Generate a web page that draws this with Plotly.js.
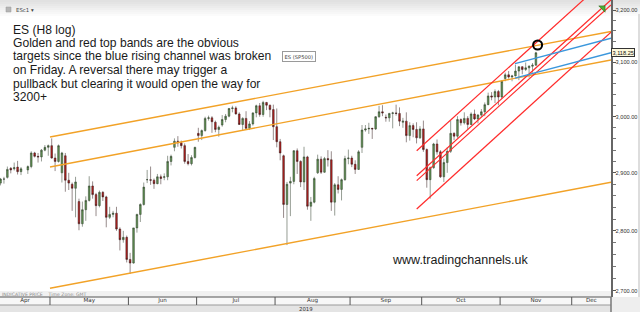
<!DOCTYPE html>
<html><head><meta charset="utf-8">
<script src="https://cdn.plot.ly/plotly-3.0.1.min.js"></script>
<style>html,body{margin:0;padding:0;background:#fff;overflow:hidden}#chart{width:640px;height:312px}</style>
</head><body><div id="chart"></div>
<script>
// ---------- data (daily bars) ----------
const dates = [
'2019-04-10','2019-04-11','2019-04-12','2019-04-15','2019-04-16','2019-04-17','2019-04-18','2019-04-22','2019-04-23','2019-04-24','2019-04-25','2019-04-26','2019-04-29','2019-04-30',
'2019-05-01','2019-05-02','2019-05-03','2019-05-06','2019-05-07','2019-05-08','2019-05-09','2019-05-10','2019-05-13','2019-05-14','2019-05-15','2019-05-16','2019-05-17','2019-05-20','2019-05-21','2019-05-22','2019-05-23','2019-05-24','2019-05-27','2019-05-28','2019-05-29','2019-05-30','2019-05-31',
'2019-06-03','2019-06-04','2019-06-05','2019-06-06','2019-06-07','2019-06-10','2019-06-11','2019-06-12','2019-06-13','2019-06-14','2019-06-17','2019-06-18','2019-06-19','2019-06-20','2019-06-21','2019-06-24','2019-06-25','2019-06-26','2019-06-27','2019-06-28',
'2019-07-01','2019-07-02','2019-07-03','2019-07-04','2019-07-05','2019-07-08','2019-07-09','2019-07-10','2019-07-11','2019-07-12','2019-07-15','2019-07-16','2019-07-17','2019-07-18','2019-07-19','2019-07-22','2019-07-23','2019-07-24','2019-07-25','2019-07-26','2019-07-29','2019-07-30','2019-07-31',
'2019-08-01','2019-08-02','2019-08-05','2019-08-06','2019-08-07','2019-08-08','2019-08-09','2019-08-12','2019-08-13','2019-08-14','2019-08-15','2019-08-16','2019-08-19','2019-08-20','2019-08-21','2019-08-22','2019-08-23','2019-08-26','2019-08-27','2019-08-28','2019-08-29','2019-08-30',
'2019-09-02','2019-09-03','2019-09-04','2019-09-05','2019-09-06','2019-09-09','2019-09-10','2019-09-11','2019-09-12','2019-09-13','2019-09-16','2019-09-17','2019-09-18','2019-09-19','2019-09-20','2019-09-23','2019-09-24','2019-09-25','2019-09-26','2019-09-27','2019-09-30',
'2019-10-01','2019-10-02','2019-10-03','2019-10-04','2019-10-07','2019-10-08','2019-10-09','2019-10-10','2019-10-11','2019-10-14','2019-10-15','2019-10-16','2019-10-17','2019-10-18','2019-10-21','2019-10-22','2019-10-23','2019-10-24','2019-10-25','2019-10-28','2019-10-29','2019-10-30','2019-10-31',
'2019-11-01','2019-11-04','2019-11-05','2019-11-06','2019-11-07','2019-11-08','2019-11-11','2019-11-12','2019-11-13','2019-11-14','2019-11-15'
];
const opens = [
2882,2889,2892,2908,2907,2910,2902,2905,2911,2935,2929,2928,2940,2945,
2948,2926,2920,2900,2930,2887,2880,2873,2850,2812,2836,2852,2877,2862,2843,2866,2858,2823,2828,2830,2803,2785,2789,
2752,2746,2805,2828,2845,2888,2888,2887,2881,2893,2892,2893,2920,2945,2956,2953,2948,2920,2916,2927,
2970,2966,2975,2997,2998,2990,2977,2985,2995,3001,3015,3016,3005,2986,2997,2979,2987,3007,3020,3004,3026,3021,3013,
2982,2955,2930,2845,2882,2885,2939,2920,2884,2928,2842,2849,2900,2924,2901,2925,2923,2849,2879,2871,2888,2925,
2926,2915,2906,2945,2976,2978,2979,2978,3000,3009,2999,2998,3006,3007,3006,2990,2992,2966,2984,2977,2962,
2978,2941,2888,2909,2951,2937,2893,2918,2938,2970,2965,2995,2989,2997,2986,3005,2996,3003,3009,3022,3038,3036,3046,
3036,3070,3077,3073,3075,3084,3092,3087,3090,3093,3095
];
const highs = [
2891,2893,2911,2910,2918,2921,2910,2913,2938,2937,2935,2942,2949,2950,
2961,2934,2950,2937,2935,2900,2883,2893,2855,2850,2859,2894,2885,2865,2869,2868,2860,2841,2834,2841,2806,2800,2792,
2763,2805,2829,2847,2883,2905,2911,2890,2898,2897,2899,2930,2932,2961,2965,2957,2952,2933,2931,2946,
2980,2977,3000,3002,3001,2993,2984,3003,3005,3016,3020,3019,3008,2999,3010,2992,3008,3022,3025,3029,3027,3022,3022,
3015,2960,2932,2884,2893,2940,2943,2922,2946,2930,2858,2893,2932,2929,2928,2940,2938,2882,2894,2890,2930,2941,
2930,2922,2940,2985,2985,2989,2980,3001,3020,3021,3004,3007,3009,3022,3017,2998,3008,2990,2988,2990,2983,
2993,2943,2911,2953,2959,2940,2925,2945,2993,2972,3001,2997,3008,3001,3008,3013,3005,3014,3026,3044,3045,3050,3049,
3067,3081,3084,3077,3096,3093,3093,3100,3095,3099,3120
];
const lows = [
2878,2881,2890,2899,2904,2897,2896,2898,2908,2927,2918,2920,2938,2930,
2925,2903,2918,2883,2867,2870,2834,2823,2801,2807,2817,2850,2855,2825,2840,2851,2806,2820,2823,2800,2767,2780,2747,
2728,2745,2797,2815,2843,2882,2879,2872,2880,2880,2887,2887,2913,2938,2946,2943,2916,2913,2913,2925,
2955,2958,2973,2993,2971,2972,2964,2982,2990,2999,3008,3004,2985,2975,2978,2976,2984,2999,3000,3000,3012,2999,2958,
2945,2922,2822,2776,2825,2880,2898,2875,2870,2836,2817,2847,2898,2898,2900,2911,2834,2826,2864,2852,2886,2915,
2910,2898,2905,2935,2973,2969,2960,2976,2998,3001,2991,2991,2979,3002,2983,2980,2954,2957,2963,2952,2960,
2937,2874,2855,2907,2932,2891,2884,2900,2935,2958,2962,2984,2986,2978,2985,2994,2988,3000,3001,3021,3030,3025,3021,
3033,3065,3070,3065,3074,3067,3078,3084,3072,3081,3094
];
const closes = [
2889,2889,2906,2905,2909,2902,2907,2911,2935,2929,2928,2940,2945,2948,
2926,2920,2948,2935,2887,2882,2873,2884,2812,2836,2852,2877,2862,2843,2866,2858,2823,2828,2830,2803,2785,2789,2752,
2746,2805,2828,2845,2875,2888,2887,2881,2893,2890,2893,2920,2929,2956,2953,2948,2920,2916,2927,2945,
2966,2975,2997,2998,2991,2977,2981,2995,3001,3015,3016,3005,2986,2997,2979,2987,3007,3020,3004,3026,3021,3013,2982,
2955,2935,2845,2880,2885,2939,2920,2884,2928,2842,2849,2890,2924,2901,2925,2923,2849,2879,2871,2888,2925,2926,
2915,2906,2937,2976,2978,2979,2978,3000,3009,3007,2998,3006,3007,3006,2992,2992,2966,2984,2977,2962,2978,
2941,2888,2909,2951,2937,2893,2918,2938,2970,2965,2995,2989,2997,2986,3005,2996,3003,3009,3022,3038,3036,3046,3036,
3065,3077,3073,3075,3084,3092,3087,3090,3093,3095,3118.25
];

// trend lines drawn by the analyst (start / end points)
const trendStartDates  = ['2019-05-01','2019-05-01','2019-05-01','2019-09-27 13:00','2019-09-27 13:00','2019-09-27 13:00','2019-09-27 13:00','2019-11-07 08:40','2019-11-07 08:40'];
const trendStartPrices = [2963.5, 2910.2, 2704.4, 2939.0, 2894.9, 2886.3, 2837.3, 3097.9, 3070.9];
const trendEndDates    = ['2019-12-17 12:30','2019-12-17 12:30','2019-12-17 12:30','2019-12-17 12:30','2019-12-17 12:30','2019-12-17 12:30','2019-12-17 12:30','2019-12-17 12:30','2019-12-17 12:30'];
const trendEndPrices   = [3158.7, 3104.7, 2883.4, 3268.6, 3219.7, 3209.9, 3157.3, 3145.7, 3118.5];
const trendKinds       = ['gold','gold','gold','red','red','red','red','blue','blue'];

const circleDate = ['2019-11-18'];
const circlePrice = [3133];
const arrowDate = ['2019-12-13 04:00'];
const arrowPrice = [3203.9];
const lastPrice = 3118.25;
const lastPriceText = '3,118.25';

const priceTicks = [2700, 2800, 2900, 3000, 3100, 3200];
const priceTickText = ['2,700.00','2,800.00','2,900.00','3,000.00','3,100.00','3,200.00'];
const minorPriceTicks = [2720,2740,2760,2780,2820,2840,2860,2880,2920,2940,2960,2980,3020,3040,3060,3080,3120,3140,3160,3180];
const monthNames = ['Apr','May','Jun','Jul','Aug','Sep','Oct','Nov','Dec'];
const monthStarts = ['2019-05-01','2019-06-01','2019-07-01','2019-08-01','2019-09-01','2019-10-01','2019-11-01','2019-12-01'];
const viewStart = '2019-04-10 08:10';
const viewEnd = '2019-12-17 12:30';
const priceWindow = [2690.2, 3219.4];
const yearLabel = '2019';

const noteLines = [
 'ES (H8 log)',
 'Golden and red top bands are the obvious',
 'targets since the blue rising channel was broken',
 'on Friday. A reversal there may trigger a',
 'pullback but clearing it would open the way for',
 '3200+'
];
const siteText = 'www.tradingchannels.uk';
const instrumentBox = 'ES (SP500)';
const symbolText = 'ESc1 \u25BE';
const footText = 'INDICATIVE PRICE    Time Zone: GMT';

// ---------- helpers ----------
// trading-time axis: count weekdays from 1 May 2019 (weekends removed)
function wd(s){
  const iso = s.length > 10 ? s.replace(' ','T') + ':00Z' : s + 'T00:00:00Z';
  const t = Date.parse(iso);
  const ref = Date.UTC(2019,3,1); // Monday
  const dayf = (t - ref) / 864e5;
  const whole = Math.floor(dayf);
  const frac = dayf - whole;
  const weeks = Math.floor(whole / 7);
  const rem = whole - weeks * 7;
  let n = weeks * 5 + Math.min(rem, 5);
  if (rem < 5) n += frac;
  return n - 22;
}
const PW = 611, PH = 297;
const px = v => v / PW;
const py = v => 1 - v / PH;

const x0 = wd(viewStart), x1 = wd(viewEnd);
const bounds = [x0].concat(monthStarts.map(wd)).concat([x1]);
const monthMid = monthNames.map((m,i) => (bounds[i] + bounds[i+1]) / 2);

const trendStyle = {
  gold: {color:'#f2a227', width:1.4},
  red:  {color:'#ff2b2b', width:1.2},
  blue: {color:'#3b97dc', width:1.4}
};

const traces = [];
traces.push({
  type:'candlestick',
  x: dates.map(d => wd(d) + 0.5),
  open: opens, high: highs, low: lows, close: closes,
  increasing:{line:{color:'#2c3a28', width:0.5}, fillcolor:'#5f9152'},
  decreasing:{line:{color:'#2e1616', width:0.5}, fillcolor:'#b3211f'},
  whiskerwidth:0, hoverinfo:'skip', showlegend:false
});
trendStartDates.forEach((d,i) => {
  traces.push({
    type:'scatter', mode:'lines',
    x:[wd(d), wd(trendEndDates[i])],
    y:[trendStartPrices[i], trendEndPrices[i]],
    line: trendStyle[trendKinds[i]],
    hoverinfo:'skip', showlegend:false
  });
});
traces.push({type:'scatter', mode:'markers', x:circleDate.map(wd), y:circlePrice,
  marker:{symbol:'circle-open', size:9, color:'#000', line:{width:2, color:'#000'}}, hoverinfo:'skip', showlegend:false});
traces.push({type:'scatter', mode:'markers', x:arrowDate.map(wd), y:arrowPrice,
  marker:{symbol:'triangle-ne', size:7, color:'#4caf32', line:{width:0.6, color:'#2d6b1f'}}, hoverinfo:'skip', showlegend:false});

// ---------- decoration shapes ----------
const shapes = [];
for (let i = 0; i < 8; i++) {
  shapes.push({type:'rect', xref:'paper', yref:'paper', x0:0, x1:(640/PW), y0:py(i*2), y1:py(i*2+2),
    fillcolor:'#c8c8c8', opacity:0.55*(1 - i/8), line:{width:0}, layer:'below'});
}
shapes.push({type:'rect', xref:'paper', yref:'paper', x0:0, x1:1, y0:py(297), y1:py(291), fillcolor:'#f1f1f1', line:{width:0}, layer:'below'});
shapes.push({type:'rect', xref:'paper', yref:'paper', x0:0, x1:1, y0:py(305), y1:py(297), fillcolor:'#f7f7f7', line:{width:0}, layer:'below'});
shapes.push({type:'rect', xref:'paper', yref:'paper', x0:0, x1:640/PW, y0:py(312), y1:py(305), fillcolor:'#e4e4e4', line:{width:0}, layer:'below'});
shapes.push({type:'rect', xref:'paper', yref:'paper', x0:1, x1:640/PW, y0:py(312), y1:py(297), fillcolor:'#eeeeee', line:{width:0}, layer:'below'});
shapes.push({type:'rect', xref:'paper', yref:'paper', x0:638/PW, x1:640/PW, y0:py(297), y1:py(14), fillcolor:'#dddddd', line:{width:0}, layer:'below'});
shapes.push({type:'line', xref:'paper', yref:'paper', x0:0, x1:1, y0:py(297), y1:py(297), line:{color:'#555', width:1}});
shapes.push({type:'line', xref:'paper', yref:'paper', x0:0, x1:1, y0:py(305), y1:py(305), line:{color:'#999', width:1}});
shapes.push({type:'line', xref:'paper', yref:'paper', x0:1, x1:1, y0:py(312), y1:py(297), line:{color:'#777', width:1.5}});
monthStarts.forEach(m => {
  shapes.push({type:'line', xref:'x', yref:'paper', x0:wd(m), x1:wd(m), y0:py(305), y1:py(297), line:{color:'#555', width:1}});
});
shapes.push({type:'rect', xref:'paper', yref:'paper', x0:px(6), x1:px(11), y0:py(12), y1:py(7), fillcolor:'#b5b5b5', line:{color:'#999', width:0.5}});

// ---------- annotations ----------
const ann = [];
noteLines.forEach((t,i) => {
  ann.push({xref:'paper', yref:'paper', x:px(12), y:py(29.5 + 13.5*i), xanchor:'left', yanchor:'middle',
    text:t, showarrow:false, borderpad:0, font:{family:'Liberation Sans, Arial, sans-serif', size:12.1, color:'#1a1a1a'}});
});
ann.push({xref:'paper', yref:'paper', x:px(391), y:py(259.5), xanchor:'left', yanchor:'middle',
  text:siteText, showarrow:false, borderpad:0, font:{family:'Liberation Sans, Arial, sans-serif', size:12.5, color:'#1a1a1a'}});
ann.push({xref:'paper', yref:'paper', x:px(299), y:py(56.7), xanchor:'center', yanchor:'middle',
  text:instrumentBox, showarrow:false, bgcolor:'#ffffff', bordercolor:'#9a9a9a', borderwidth:1, borderpad:1.5,
  font:{family:'DejaVu Sans, sans-serif', size:5.2, color:'#444'}});
ann.push({xref:'paper', yref:'paper', x:px(15), y:py(9.5), xanchor:'left', yanchor:'middle',
  text:symbolText, showarrow:false, borderpad:0, font:{family:'DejaVu Sans, sans-serif', size:5.4, color:'#444'}});
ann.push({xref:'paper', yref:'paper', x:px(1), y:py(294), xanchor:'left', yanchor:'middle',
  text:footText, showarrow:false, borderpad:0, font:{family:'DejaVu Sans, sans-serif', size:4.6, color:'#8a8a8a'}});
ann.push({xref:'paper', yref:'paper', x:0.5, y:py(308.8), xanchor:'center', yanchor:'middle',
  text:yearLabel, showarrow:false, borderpad:0, font:{family:'DejaVu Sans, sans-serif', size:5.4, color:'#333'}});
ann.push({xref:'paper', yref:'y', x:1, y:Math.log10(lastPrice), xanchor:'left', yanchor:'middle', xshift:0,
  text:lastPriceText, showarrow:false, bgcolor:'#fdf8dc', bordercolor:'#333', borderwidth:1, borderpad:0.5,
  font:{family:'Liberation Sans, Arial, sans-serif', size:5.6, color:'#111'}});

const layout = {
  width:640, height:312, autosize:false,
  margin:{l:0, r:29, t:0, b:15, pad:0},
  paper_bgcolor:'#ffffff', plot_bgcolor:'#ffffff', showlegend:false,
  xaxis:{type:'linear', range:[x0, x1], showgrid:false, zeroline:false, showline:false, ticks:'',
    tickmode:'array', tickvals:monthMid, ticktext:monthNames, ticklabelstandoff:-2,
    tickfont:{family:'DejaVu Sans, sans-serif', size:5.6, color:'#333'},
    rangeslider:{visible:false}, fixedrange:true, automargin:false},
  yaxis:{type:'log', side:'right', range:[Math.log10(priceWindow[0]), Math.log10(priceWindow[1])],
    showgrid:false, zeroline:false, showline:true, linecolor:'#666', linewidth:1.5,
    ticks:'outside', ticklen:3, tickwidth:1, tickcolor:'#555', ticklabelstandoff:-1,
    tickmode:'array', tickvals:priceTicks, ticktext:priceTickText,
    minor:{tickmode:'array', tickvals:minorPriceTicks, ticks:'outside', ticklen:3, tickcolor:'#777', tickwidth:1, showgrid:false},
    tickfont:{family:'Liberation Sans, Arial, sans-serif', size:5.6, color:'#333'},
    fixedrange:true, automargin:false},
  shapes:shapes, annotations:ann
};

Plotly.newPlot('chart', traces, layout, {staticPlot:true, displayModeBar:false});
</script>
</body></html>
